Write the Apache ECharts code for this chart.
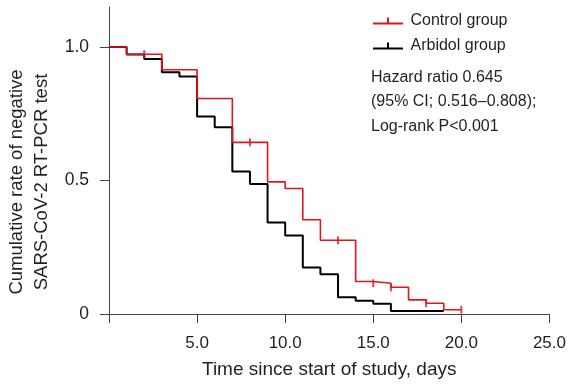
<!DOCTYPE html>
<html>
<head>
<meta charset="utf-8">
<script src="https://cdn.jsdelivr.net/npm/echarts@6/dist/echarts.min.js"></script>
<style>
  html, body { margin: 0; padding: 0; background: #fff; }
  #chart { width: 569px; height: 384px; }
</style>
</head>
<body>
<div id="chart"></div>
<script>
// survival steps, value held from day i to day i+1
const controlDays = [0, 1, 2, 3, 4, 5, 6, 7, 8, 9, 10, 11, 12, 13, 14, 15, 16, 17, 18, 19, 20];
const controlValues = [1.0, 0.973, 0.973, 0.915, 0.915, 0.807, 0.807, 0.643, 0.643, 0.495, 0.47,
    0.353, 0.276, 0.276, 0.122, 0.115, 0.10, 0.053, 0.04, 0.016, 0.016];
const arbidolDays = [0, 1, 2, 3, 4, 5, 6, 7, 8, 9, 10, 11, 12, 13, 14, 15, 16, 17, 18, 19];
const arbidolValues = [1.0, 0.972, 0.955, 0.906, 0.89, 0.74, 0.70, 0.534, 0.487, 0.343, 0.294,
    0.174, 0.149, 0.063, 0.05, 0.038, 0.011, 0.011, 0.011, 0.011];
// censored observations (tick marks)
const controlCensorDays = [2, 8, 13, 15, 16, 18, 20];
const yTickValues = [0, 0.5, 1.0];
const statLines = ["Hazard ratio 0.645", "(95% CI; 0.516\u20130.808);", "Log-rank P<0.001"];

const RED = "#e3141c";
const INK = "#231f20";
const FONT = "Liberation Sans";

const controlData = controlDays.map((d, i) => [d, controlValues[i]]);
const arbidolData = arbidolDays.map((d, i) => [d, arbidolValues[i]]);
const censorData = controlCensorDays.map(d => [d, controlValues[controlDays.indexOf(d)]]);

const legendIcon = "path://M0,5h30v2h-30z M14,0h2v5h-2z";

const chart = echarts.init(document.getElementById("chart"));
chart.setOption({
    animation: false,
    textStyle: {fontFamily: FONT},
    grid: {left: 109, right: 16, top: 7, bottom: 67},
    legend: {
        orient: "vertical",
        left: 368,
        top: 8,
        itemWidth: 35,
        itemHeight: 7,
        itemGap: 9,
        data: [
            {name: "Control group", icon: legendIcon},
            {name: "Arbidol group", icon: legendIcon}
        ],
        textStyle: {fontSize: 16, color: INK, fontFamily: FONT}
    },
    xAxis: {
        type: "value",
        min: 0,
        max: 25,
        interval: 5,
        name: "Time since start of study, days",
        nameLocation: "middle",
        nameGap: 46,
        nameTextStyle: {fontSize: 19, color: INK},
        axisLine: {lineStyle: {color: "#444", width: 1}},
        axisTick: {length: 9, lineStyle: {color: "#444"}},
        splitLine: {show: false},
        axisLabel: {
            fontSize: 17,
            color: INK,
            margin: 21,
            formatter: v => (v === 0 ? "" : v.toFixed(1))
        }
    },
    yAxis: {
        type: "value",
        min: 0,
        max: 1.15,
        interval: 0.5,
        axisLine: {show: true, lineStyle: {color: "#444", width: 1}},
        axisTick: {show: true, length: 9, customValues: yTickValues, lineStyle: {color: "#444"}},
        splitLine: {show: false},
        axisLabel: {
            fontSize: 17.5,
            color: INK,
            margin: 20,
            customValues: yTickValues,
            formatter: v => (v === 0 ? "0" : v.toFixed(1))
        }
    },
    graphic: [
        {
            type: "text",
            x: 29.5,
            y: 182,
            rotation: Math.PI / 2,
            style: {
                text: "Cumulative rate of negative\nSARS-CoV-2 RT-PCR test",
                fontSize: 18.5,
                lineHeight: 25,
                fontFamily: FONT,
                fill: INK,
                align: "center",
                verticalAlign: "middle"
            }
        },
        {
            type: "text",
            left: 371,
            top: 65,
            style: {
                text: statLines.join("\n"),
                fontSize: 16,
                lineHeight: 24.5,
                fontFamily: FONT,
                fill: INK
            }
        }
    ],
    series: [
        {
            name: "Arbidol group",
            type: "line",
            step: "end",
            data: arbidolData,
            showSymbol: false,
            color: "#000",
            lineStyle: {color: "#000", width: 2}
        },
        {
            name: "Control group",
            type: "line",
            step: "end",
            data: controlData,
            showSymbol: false,
            color: RED,
            lineStyle: {color: RED, width: 1.6}
        },
        {
            name: "Control censored",
            type: "scatter",
            data: censorData,
            symbol: "rect",
            symbolSize: [2, 8],
            itemStyle: {color: RED},
            z: 5
        }
    ]
});
</script>
</body>
</html>
